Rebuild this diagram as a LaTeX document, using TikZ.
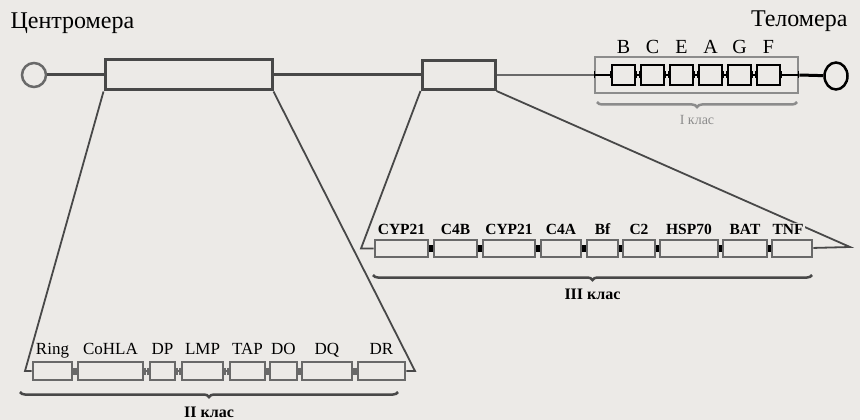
\documentclass[tikz,border=0pt]{standalone}
\usepackage{fontspec}
\setmainfont{Liberation Serif}
\usetikzlibrary{arrows.meta,positioning,shapes.geometric,decorations.pathreplacing}
\definecolor{paper}{RGB}{236,234,231}
\definecolor{lncol}{RGB}{72,72,72}
\definecolor{boxcol}{RGB}{105,105,105}
\definecolor{clsIcol}{RGB}{140,140,140}

\begin{document}
\begin{tikzpicture}[
    x=1pt, y=-1pt,
    chrom/.style={line width=3pt, color=#1},
    chrom/.default=lncol,
    zoomln/.style={line width=1.8pt, color=lncol},
    segbox/.style={draw=lncol, line width=3pt, inner sep=0pt},
    genebox/.style={draw=#1, line width=2.6pt, inner sep=0pt},
    genebox/.default=boxcol,
    boxI/.style={genebox=black, line width=1.7pt, minimum height=20pt, minimum width=#1},
    boxII/.style={genebox, minimum height=18pt, minimum width=#1},
    boxIII/.style={genebox, minimum height=17pt, minimum width=#1},
    hlink/.style={line width=1.5pt, draw=#1, arrows={Bar[width=7pt]-Bar[width=7pt]}},
    hlink/.default=black,
    nameI/.style={anchor=base, font=\fontsize{20}{20}\selectfont},
    nameII/.style={anchor=base, font=\fontsize{17}{17}\selectfont},
    nameIII/.style={anchor=base, font=\fontsize{15.5}{15.5}\selectfont\bfseries},
    endlbl/.style={font=\fontsize{24}{24}\selectfont},
    brc/.style={decorate, decoration={brace, mirror, amplitude=5pt}, line width=2.5pt, color=#1},
    brc/.default=lncol,
    clslbl/.style={font=\fontsize{16}{16}\selectfont\bfseries, color=black},
]
\useasboundingbox (0,0) rectangle (860,420);
\fill[paper] (0,0) rectangle (860,420);

% ============ CHROMOSOME ============
\node[circle, draw=boxcol, line width=2.5pt, minimum size=24pt, inner sep=0pt] (cen) at (34,75) {};
\node[segbox, minimum width=167pt, minimum height=30pt] (seg1) at (188.5,75) {};
\node[segbox, minimum width=73pt, minimum height=29pt] (seg2) at (458.5,75) {};
\node[draw=clsIcol, line width=2.8pt, minimum width=203pt, minimum height=36pt, inner sep=0pt] (cls1) at (696.5,75) {};
\node[ellipse, draw=black, line width=2.5pt, minimum width=23pt, minimum height=27pt, inner sep=0pt] (tel) at (836,76) {};

\node[endlbl, anchor=base west] (cenlbl) at (7,29) {Центромера};
\node[endlbl, anchor=base east] (tellbl) at (851,27) {Теломера};

\draw[chrom] (cen) -- (seg1);
\draw[chrom] (seg1) -- (seg2);
\draw[chrom=boxcol, line width=2pt] (seg2) -- (cls1);

% ============ CLASS I ============
\node[boxI=23] (gB) at (623.5,75) {};
\node[boxI=23] (gC) at (652.5,75) {};
\node[boxI=23] (gE) at (681.5,75) {};
\node[boxI=23] (gA) at (710.5,75) {};
\node[boxI=23] (gG) at (739.5,75) {};
\node[boxI=23] (gF) at (768.5,75) {};
\draw[hlink] (cls1.west) -- (gB);
\draw[hlink] (gB) -- (gC);
\draw[hlink] (gC) -- (gE);
\draw[hlink] (gE) -- (gA);
\draw[hlink] (gA) -- (gG);
\draw[hlink] (gG) -- (gF);
\draw[hlink] (gF) -- (cls1.east);
\draw[chrom=black] (cls1.east) -- (tel);

\node[nameI] at ([yshift=11pt]gB.north) {B};
\node[nameI] at ([yshift=11pt]gC.north) {C};
\node[nameI] at ([yshift=11pt]gE.north) {E};
\node[nameI] at ([yshift=11pt]gA.north) {A};
\node[nameI] at ([yshift=11pt]gG.north) {G};
\node[nameI] at ([yshift=11pt]gF.north) {F};

\draw[brc=clsIcol] (597,102) -- (797,102)
  node[midway, yshift=-18pt, font=\fontsize{14}{14}\selectfont, color=clsIcol] {I клас};

% ============ CLASS II ============
\node[boxII=39] (ring) at (52.5,371) {};
\node[boxII=65] (cohla) at (110.5,371) {};
\node[boxII=25] (dp) at (162.5,371) {};
\node[boxII=41] (lmp) at (202.5,371) {};
\node[boxII=35] (tap) at (247.5,371) {};
\node[boxII=27] (do) at (283.5,371) {};
\node[boxII=50] (dq) at (327,371) {};
\node[boxII=47] (dr) at (381.5,371) {};
\draw[hlink=boxcol] (ring) -- (cohla);
\draw[hlink=boxcol] (cohla) -- (dp);
\draw[hlink=boxcol] (dp) -- (lmp);
\draw[hlink=boxcol] (lmp) -- (tap);
\draw[hlink=boxcol] (tap) -- (do);
\draw[hlink=boxcol] (do) -- (dq);
\draw[hlink=boxcol] (dq) -- (dr);

\node[nameII] at ([yshift=6pt]ring.north) {Ring};
\node[nameII] at ([yshift=6pt]cohla.north) {CoHLA};
\node[nameII] at ([yshift=6pt]dp.north) {DP};
\node[nameII] at ([yshift=6pt]lmp.north) {LMP};
\node[nameII] at ([yshift=6pt]tap.north) {TAP};
\node[nameII] at ([yshift=6pt]do.north) {DO};
\node[nameII] at ([yshift=6pt]dq.north) {DQ};
\node[nameII] at ([yshift=6pt]dr.north) {DR};

% zoom lines from the first segment
\coordinate (IIl) at (25,371);
\coordinate (IIr) at (415,371);
\draw[zoomln] (seg1.south west) -- (IIl) -- (ring);
\draw[zoomln] (seg1.south east) -- (IIr) -- (dr);

\draw[brc] (20,392) -- (398,392)
  node[midway, yshift=-20pt, clslbl] {II клас};

% ============ CLASS III ============
\node[boxIII=53] (cypa) at (401.5,248.5) {};
\node[boxIII=43] (cfb) at (455.5,248.5) {};
\node[boxIII=52] (cypb) at (509,248.5) {};
\node[boxIII=40] (cfa) at (561,248.5) {};
\node[boxIII=31] (bf) at (602.5,248.5) {};
\node[boxIII=32] (ctwo) at (639,248.5) {};
\node[boxIII=58] (hsp) at (689,248.5) {};
\node[boxIII=44] (bat) at (745,248.5) {};
\node[boxIII=40] (tnf) at (792,248.5) {};
\draw[hlink] (cypa) -- (cfb);
\draw[hlink] (cfb) -- (cypb);
\draw[hlink] (cypb) -- (cfa);
\draw[hlink] (cfa) -- (bf);
\draw[hlink] (bf) -- (ctwo);
\draw[hlink] (ctwo) -- (hsp);
\draw[hlink] (hsp) -- (bat);
\draw[hlink] (bat) -- (tnf);

% zoom lines from the second segment
\coordinate (IIIl) at (361,248.5);
\coordinate (IIIr) at (850,247);
\draw[zoomln] (seg2.south west) -- (IIIl) -- (cypa);
\draw[zoomln] (seg2.south east) -- (IIIr) -- (tnf);

\node[nameIII] at ([yshift=4pt]cypa.north) {CYP21};
\node[nameIII] at ([yshift=4pt]cfb.north) {C4B};
\node[nameIII] at ([yshift=4pt]cypb.north) {CYP21};
\node[nameIII] at ([yshift=4pt]cfa.north) {C4A};
\node[nameIII] at ([yshift=4pt]bf.north) {Bf};
\node[nameIII] at ([yshift=4pt]ctwo.north) {C2};
\node[nameIII] at ([yshift=4pt]hsp.north) {HSP70};
\node[nameIII] at ([yshift=4pt]bat.north) {BAT};
\node[nameIII, fill=paper, inner sep=1.5pt] at ([xshift=-4pt, yshift=4pt]tnf.north) {TNF};

\draw[brc] (373,275) -- (812,275)
  node[midway, yshift=-19pt, clslbl] {III клас};

\end{tikzpicture}
\end{document}
